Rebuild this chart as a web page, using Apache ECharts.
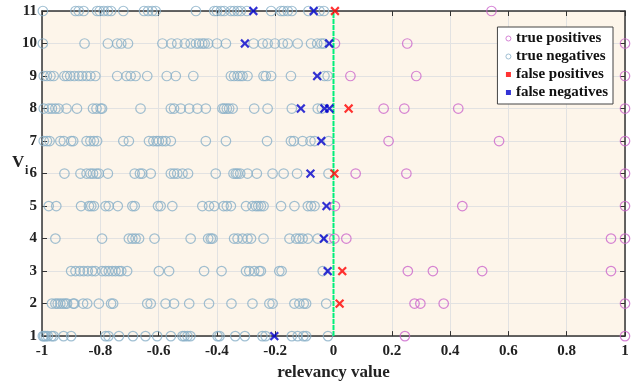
<!DOCTYPE html>
<html>
<head>
<meta charset="utf-8">
<script src="https://cdn.jsdelivr.net/npm/echarts@6/dist/echarts.min.js"></script>
<style>
  html, body { margin: 0; padding: 0; background: #fff; }
  #chart { width: 639px; height: 386px; }
</style>
</head>
<body>
<div id="chart"></div>
<script>
// relevancy values per row V_i (index 0 -> V_1 ... index 10 -> V_11)
const trueNegatives = [
  [-0.997, -0.993, -0.987, -0.98, -0.967, -0.96, -0.926, -0.9, -0.782, -0.772, -0.736, -0.688, -0.645, -0.605, -0.558, -0.518, -0.511, -0.501, -0.491, -0.398, -0.391, -0.337, -0.304, -0.244, -0.233, -0.143, -0.123, -0.103, -0.094, -0.019],
  [-0.966, -0.954, -0.946, -0.937, -0.928, -0.92, -0.914, -0.893, -0.889, -0.859, -0.845, -0.805, -0.763, -0.756, -0.639, -0.627, -0.576, -0.547, -0.495, -0.427, -0.35, -0.278, -0.22, -0.209, -0.134, -0.117, -0.102, -0.094, -0.025],
  [-0.9, -0.885, -0.87, -0.857, -0.843, -0.828, -0.817, -0.794, -0.782, -0.771, -0.759, -0.748, -0.736, -0.728, -0.708, -0.599, -0.564, -0.444, -0.384, -0.3, -0.289, -0.272, -0.255, -0.249, -0.186, -0.178, -0.037],
  [-0.954, -0.794, -0.702, -0.69, -0.679, -0.667, -0.614, -0.49, -0.43, -0.421, -0.415, -0.341, -0.329, -0.312, -0.295, -0.283, -0.24, -0.151, -0.128, -0.117, -0.106, -0.088, -0.054, -0.015],
  [-0.977, -0.951, -0.866, -0.839, -0.831, -0.822, -0.782, -0.771, -0.74, -0.69, -0.682, -0.602, -0.593, -0.553, -0.45, -0.427, -0.409, -0.377, -0.366, -0.352, -0.3, -0.278, -0.266, -0.258, -0.249, -0.24, -0.18, -0.134, -0.088, -0.077, -0.065],
  [-0.923, -0.868, -0.847, -0.834, -0.825, -0.813, -0.805, -0.774, -0.682, -0.664, -0.656, -0.627, -0.558, -0.547, -0.536, -0.518, -0.499, -0.404, -0.343, -0.335, -0.329, -0.32, -0.295, -0.263, -0.209, -0.171, -0.125, -0.017],
  [-0.994, -0.983, -0.974, -0.937, -0.925, -0.9, -0.893, -0.847, -0.834, -0.822, -0.811, -0.721, -0.702, -0.633, -0.618, -0.607, -0.599, -0.587, -0.576, -0.558, -0.438, -0.369, -0.228, -0.146, -0.136, -0.106, -0.079, -0.065, -0.017],
  [-0.994, -0.977, -0.966, -0.954, -0.943, -0.916, -0.88, -0.825, -0.813, -0.799, -0.794, -0.662, -0.558, -0.547, -0.524, -0.495, -0.467, -0.438, -0.381, -0.375, -0.366, -0.358, -0.346, -0.272, -0.226, -0.143, -0.054, -0.04],
  [-0.994, -0.983, -0.971, -0.96, -0.923, -0.914, -0.903, -0.889, -0.874, -0.862, -0.847, -0.834, -0.817, -0.742, -0.71, -0.696, -0.679, -0.639, -0.572, -0.541, -0.481, -0.352, -0.341, -0.329, -0.32, -0.312, -0.295, -0.24, -0.232, -0.214, -0.146, -0.031, -0.02],
  [-0.997, -0.854, -0.774, -0.742, -0.728, -0.705, -0.587, -0.556, -0.536, -0.51, -0.49, -0.472, -0.461, -0.45, -0.442, -0.43, -0.4, -0.369, -0.274, -0.243, -0.226, -0.201, -0.174, -0.157, -0.123, -0.077, -0.056, -0.042, -0.033],
  [-0.997, -0.885, -0.874, -0.857, -0.811, -0.802, -0.788, -0.774, -0.763, -0.721, -0.65, -0.636, -0.622, -0.61, -0.472, -0.409, -0.4, -0.386, -0.375, -0.352, -0.341, -0.329, -0.318, -0.297, -0.214, -0.18, -0.171, -0.157, -0.143, -0.086, -0.048, -0.033]
];
const truePositives = [
  [0.245, 1.0],
  [0.278, 0.298, 0.378, 1.0],
  [0.255, 0.341, 0.51, 0.952],
  [0.003, 0.044, 0.952, 1.0],
  [0.005, 0.442, 1.0],
  [0.076, 0.25, 1.0],
  [0.189, 0.568, 1.0],
  [0.172, 0.243, 0.428, 1.0],
  [0.058, 0.284, 1.0],
  [0.005, 0.253, 1.0],
  [0.542]
];
const falsePositives = [
  [], [0.021], [0.03], [], [], [0.003], [], [0.052], [], [], [0.005]
];
const falseNegatives = [
  [-0.203], [], [-0.02], [-0.033], [-0.024], [-0.079], [-0.042], [-0.112, -0.031, -0.014], [-0.056], [-0.304, -0.015], [-0.275, -0.068]
];
// decision threshold line at relevancy 0, spanning V_1..V_11
const thresholdLine = [[0, 1], [0, 11]];

function toPoints(rows) {
  const pts = [];
  rows.forEach((xs, i) => xs.forEach(x => pts.push([x, i + 1])));
  return pts;
}

const cross = 'path://M4,0H6V4H10V6H6V10H4V6H0V4H4Z';
const font = 'Liberation Serif';
const axisColor = '#333';

let chart = echarts.init(document.getElementById('chart'));

chart.setOption({
  animation: false,
  grid: {
    left: 42, right: 14, top: 11, bottom: 48,
    show: true, backgroundColor: '#fdf5ea', borderWidth: 0
  },
  legend: {
    right: 26, top: 27,
    orient: 'vertical',
    backgroundColor: '#fff',
    borderColor: '#444', borderWidth: 1,
    padding: [4, 5, 4, 8],
    itemGap: 3, itemWidth: 5, itemHeight: 5,
    textStyle: { fontFamily: font, fontWeight: 'bold', fontSize: 15, lineHeight: 15, color: '#111' },
    data: [
      { name: 'true positives', icon: 'circle', itemStyle: { color: 'transparent', borderColor: '#cc66cc', borderWidth: 1 } },
      { name: 'true negatives', icon: 'circle', itemStyle: { color: 'transparent', borderColor: '#8ab0c8', borderWidth: 1 } },
      { name: 'false positives', icon: 'rect', itemStyle: { color: '#ff0000', borderWidth: 0 } },
      { name: 'false negatives', icon: 'rect', itemStyle: { color: '#0000cc', borderWidth: 0 } }
    ]
  },
  xAxis: [
    {
      type: 'value', min: -1, max: 1, interval: 0.2,
      name: 'relevancy value', nameLocation: 'middle', nameGap: 25,
      nameTextStyle: { fontFamily: font, fontWeight: 'bold', fontSize: 17, color: '#222' },
      axisLine: { onZero: false, lineStyle: { color: axisColor, width: 1.5 } },
      axisTick: { inside: true, length: 5, lineStyle: { color: axisColor } },
      axisLabel: {
        fontFamily: font, fontWeight: 'bold', fontSize: 15, color: '#222', margin: 8,
        formatter: v => String(Math.round(v * 10) / 10)
      },
      splitLine: { lineStyle: { color: '#e2e2e2' } }
    },
    {
      type: 'value', min: -1, max: 1, interval: 0.2, position: 'top',
      axisLine: { onZero: false, lineStyle: { color: axisColor, width: 1.5 } },
      axisTick: { inside: true, length: 5, lineStyle: { color: axisColor } },
      axisLabel: { show: false }, splitLine: { show: false }
    }
  ],
  yAxis: [
    {
      type: 'value', min: 1, max: 11, interval: 1,
      axisLine: { show: true, onZero: false, lineStyle: { color: axisColor, width: 1.5 } },
      axisTick: { show: true, inside: true, length: 5, lineStyle: { color: axisColor } },
      axisLabel: { fontFamily: font, fontWeight: 'bold', fontSize: 15, color: '#222', margin: 5 },
      splitLine: { lineStyle: { color: '#e2e2e2' } }
    },
    {
      type: 'value', min: 1, max: 11, interval: 1, position: 'right',
      axisLine: { show: true, onZero: false, lineStyle: { color: axisColor, width: 1.5 } },
      axisTick: { show: true, inside: true, length: 5, lineStyle: { color: axisColor } },
      axisLabel: { show: false }, splitLine: { show: false }
    }
  ],
  graphic: [
    { type: 'text', left: 12, top: 154, style: { text: 'V', fontFamily: font, fontWeight: 'bold', fontSize: 17, fill: '#222' } },
    { type: 'text', left: 25, top: 165, style: { text: 'i', fontFamily: font, fontWeight: 'bold', fontSize: 12, fill: '#222' } }
  ],
  series: [
    {
      name: 'true negatives', type: 'scatter', clip: false,
      symbol: 'circle', symbolSize: 9.5,
      itemStyle: { color: 'transparent', borderColor: '#8ab0c8', borderWidth: 1.2 },
      data: toPoints(trueNegatives)
    },
    {
      name: 'threshold', type: 'line', silent: true,
      symbol: 'none', z: 3,
      lineStyle: { color: '#00f07a', width: 2, type: [5, 1] },
      data: thresholdLine
    },
    {
      name: 'true positives', type: 'scatter', clip: false,
      symbol: 'circle', symbolSize: 9.5,
      itemStyle: { color: 'transparent', borderColor: '#cc66cc', borderWidth: 1.2 },
      data: toPoints(truePositives)
    },
    {
      name: 'false positives', type: 'scatter', clip: false, z: 4,
      symbol: cross, symbolRotate: 45, symbolSize: 11,
      itemStyle: { color: '#ff0000' },
      data: toPoints(falsePositives)
    },
    {
      name: 'false negatives', type: 'scatter', clip: false, z: 4,
      symbol: cross, symbolRotate: 45, symbolSize: 11,
      itemStyle: { color: '#0000cc' },
      data: toPoints(falseNegatives)
    }
  ]
});
</script>
</body>
</html>
